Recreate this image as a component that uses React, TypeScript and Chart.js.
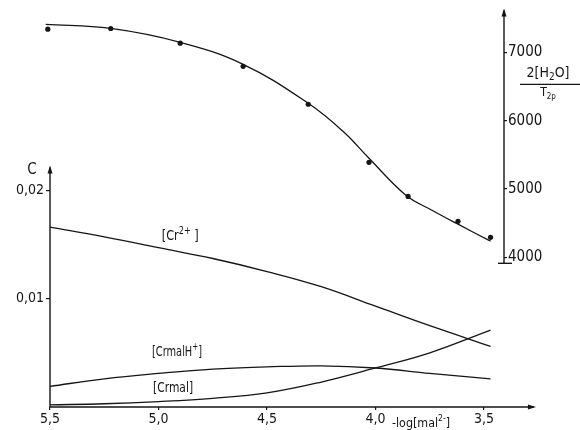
import React, { useEffect, useRef } from "react";
import { Chart, registerables } from "chart.js";

Chart.register(...registerables);

// x axis: -log[mal2-] (reversed)
const xTickValues = [5.5, 5.0, 4.5, 4.0, 3.5];
const cTickValues = [0.01, 0.02];
const nmrTickValues = [4000, 5000, 6000, 7000];

// upper panel: 2[H2O]/T2p measured points
const nmrX = [5.51, 5.22, 4.9, 4.61, 4.31, 4.03, 3.85, 3.62, 3.47];
const nmrY = [7340, 7350, 7135, 6795, 6240, 5390, 4890, 4525, 4290];

// upper panel: fitted curve
const fitX = [5.52, 5.22, 4.9, 4.61, 4.31, 4.15, 4.03, 3.86, 3.74, 3.62, 3.47];
const fitY = [7410, 7351, 7147, 6825, 6254, 5844, 5449, 4907, 4688, 4483, 4234];

// lower panel: concentrations C
const concX = [5.5, 5.25, 5.0, 4.75, 4.5, 4.25, 4.0, 3.75, 3.47];
const crFree = [0.0166, 0.0157, 0.0147, 0.0137, 0.0125, 0.0111, 0.0093, 0.0075, 0.0056];
const crMalH = [0.0019, 0.0026, 0.0031, 0.0035, 0.0037, 0.0038, 0.0036, 0.0031, 0.0026];
const crMal = [0.0002, 0.0003, 0.0005, 0.0008, 0.0013, 0.0023, 0.0036, 0.005, 0.0071];

const FONT = "'DejaVu Sans Condensed', 'DejaVu Sans', sans-serif";
const INK = "#151515";

type Part = { t: string; sup?: boolean; sub?: boolean };

function partSize(p: Part, size: number) {
  return p.sup || p.sub ? Math.round(size * 0.7) : size;
}

function measureRich(ctx: CanvasRenderingContext2D, parts: Part[], size: number, h = 1) {
  let w = 0;
  for (const p of parts) {
    ctx.font = `${partSize(p, size)}px ${FONT}`;
    w += ctx.measureText(p.t).width;
  }
  return w * h;
}

function drawRich(ctx: CanvasRenderingContext2D, parts: Part[], x: number, y: number, size: number, h = 1) {
  ctx.save();
  ctx.translate(x, y);
  ctx.scale(h, 1);
  let cx = 0;
  ctx.textBaseline = "middle";
  ctx.textAlign = "left";
  for (const p of parts) {
    ctx.font = `${partSize(p, size)}px ${FONT}`;
    const dy = p.sup ? -size * 0.38 : p.sub ? size * 0.3 : 0;
    ctx.fillText(p.t, cx, dy);
    cx += ctx.measureText(p.t).width;
  }
  ctx.restore();
}

const decorPlugin = {
  id: "decor",
  afterDraw(chart: any) {
    const { ctx } = chart;
    const x = chart.scales.x;
    const yC = chart.scales.yC;
    const yN = chart.scales.yN;
    ctx.save();
    ctx.strokeStyle = INK;
    ctx.fillStyle = INK;
    ctx.lineWidth = 1.4;

    const line = (x1: number, y1: number, x2: number, y2: number) => {
      ctx.beginPath();
      ctx.moveTo(x1, y1);
      ctx.lineTo(x2, y2);
      ctx.stroke();
    };
    const arrowUp = (px: number, py: number) => {
      ctx.beginPath();
      ctx.moveTo(px, py - 2);
      ctx.lineTo(px - 2.5, py + 6);
      ctx.lineTo(px + 2.5, py + 6);
      ctx.closePath();
      ctx.fill();
    };
    const arrowRight = (px: number, py: number) => {
      ctx.beginPath();
      ctx.moveTo(px + 2, py);
      ctx.lineTo(px - 6, py - 2.5);
      ctx.lineTo(px - 6, py + 2.5);
      ctx.closePath();
      ctx.fill();
    };

    // x axis with arrow
    const y0 = yC.getPixelForValue(0);
    const xl = x.getPixelForValue(5.5);
    const xEnd = x.getPixelForValue(3.27);
    ctx.lineWidth = 1.7;
    line(xl, y0, xEnd, y0);
    arrowRight(xEnd, y0);
    ctx.lineWidth = 1.4;

    // left C axis with arrow
    const yTopC = yC.getPixelForValue(0.0221);
    line(xl, y0, xl, yTopC);
    arrowUp(xl, yTopC);

    // right axis with arrow and foot bar
    const xr = yN.left;
    const yb = yN.getPixelForValue(3910);
    const yt = yN.getPixelForValue(7615);
    line(xr, yb, xr, yt);
    arrowUp(xr, yt);
    line(xr - 6, yb, xr + 8, yb);

    // axis names
    ctx.font = `15px ${FONT}`;
    ctx.textAlign = "center";
    ctx.textBaseline = "middle";
    ctx.fillText("C", xl - 18, yTopC + 3);

    // fraction label
    const fx = xr + 44;
    const numParts: Part[] = [{ t: "2[H" }, { t: "2", sub: true }, { t: "O]" }];
    const nw = measureRich(ctx, numParts, 14);
    drawRich(ctx, numParts, fx - nw / 2, yN.getPixelForValue(6693), 14);
    ctx.lineWidth = 1.2;
    const fl = yN.getPixelForValue(6532);
    line(xr + 16, fl, xr + 80, fl);
    const denParts: Part[] = [{ t: "T" }, { t: "2p", sub: true }];
    const dw = measureRich(ctx, denParts, 12);
    drawRich(ctx, denParts, fx - dw / 2, yN.getPixelForValue(6400), 12);

    // x axis name
    drawRich(
      ctx,
      [{ t: "-log[mal" }, { t: "2-", sup: true }, { t: "]" }],
      x.getPixelForValue(3.924),
      y0 + 17,
      13,
      0.95
    );

    // curve labels
    drawRich(ctx, [{ t: "[Cr" }, { t: "2+", sup: true }, { t: " ]" }], x.getPixelForValue(4.985), yC.getPixelForValue(0.01575), 14, 0.9);
    drawRich(ctx, [{ t: "[CrmalH" }, { t: "+", sup: true }, { t: "]" }], x.getPixelForValue(5.03), yC.getPixelForValue(0.005), 14, 0.78);
    drawRich(ctx, [{ t: "[Crmal]" }], x.getPixelForValue(5.025), yC.getPixelForValue(0.0017), 14, 0.85);

    ctx.restore();
  },
};

function pts(xs: number[], ys: number[]) {
  return xs.map((v, i) => ({ x: v, y: ys[i] }));
}

export default function App() {
  const ref = useRef<HTMLCanvasElement | null>(null);

  useEffect(() => {
    if (!ref.current) return;
    const lineStyle = {
      borderColor: INK,
      borderWidth: 1.3,
      pointRadius: 0,
      fill: false,
      tension: 0.4,
      clip: false as any,
    };
    const chart = new Chart(ref.current, {
      type: "line",
      data: {
        datasets: [
          {
            label: "2[H2O]/T2p",
            data: pts(nmrX, nmrY),
            yAxisID: "yN",
            showLine: false,
            pointRadius: 2.6,
            pointBackgroundColor: INK,
            pointBorderColor: INK,
            pointBorderWidth: 0,
            clip: false as any,
          },
          { label: "fit", data: pts(fitX, fitY), yAxisID: "yN", ...lineStyle },
          { label: "[Cr2+]", data: pts(concX, crFree), yAxisID: "yC", ...lineStyle },
          { label: "[CrmalH+]", data: pts(concX, crMalH), yAxisID: "yC", ...lineStyle },
          { label: "[Crmal]", data: pts(concX, crMal), yAxisID: "yC", ...lineStyle },
        ],
      },
      options: {
        responsive: false,
        animation: false,
        devicePixelRatio: 1,
        layout: { padding: { top: 10, left: 0, right: 0, bottom: 0 } },
        plugins: { legend: { display: false }, tooltip: { enabled: false } },
        scales: {
          x: {
            type: "linear",
            reverse: true,
            min: 3.408,
            max: 5.5,
            afterFit: (s: any) => {
              s.height = 23;
            },
            afterBuildTicks: (s: any) => {
              s.ticks = xTickValues.map((v) => ({ value: v }));
            },
            border: { display: false },
            grid: { drawOnChartArea: false, tickLength: 3, color: INK, lineWidth: 1.2 },
            ticks: {
              color: INK,
              padding: 1,
              maxRotation: 0,
              autoSkip: false,
              font: { family: FONT, size: 14 },
              callback: (v: any) => Number(v).toFixed(1).replace(".", ","),
            },
          },
          yC: {
            type: "linear",
            position: "left",
            min: 0,
            max: 0.03659,
            afterFit: (s: any) => {
              s.width = 50;
            },
            afterBuildTicks: (s: any) => {
              s.ticks = cTickValues.map((v) => ({ value: v }));
            },
            border: { display: false },
            grid: { drawOnChartArea: false, tickLength: 4, color: INK, lineWidth: 1.2 },
            ticks: {
              color: INK,
              padding: 2,
              font: { family: FONT, size: 14 },
              callback: (v: any) => Number(v).toFixed(2).replace(".", ","),
            },
          },
          yN: {
            type: "linear",
            position: "right",
            min: 1805,
            max: 7615,
            afterFit: (s: any) => {
              s.width = 76;
            },
            afterBuildTicks: (s: any) => {
              s.ticks = nmrTickValues.map((v) => ({ value: v }));
            },
            border: { display: false },
            grid: { drawOnChartArea: false, tickLength: 3, color: INK, lineWidth: 1.2 },
            ticks: {
              color: INK,
              padding: 1,
              font: { family: FONT, size: 15 },
              callback: (v: any) => String(v),
            },
          },
        },
      },
      plugins: [decorPlugin],
    });
    return () => chart.destroy();
  }, []);

  return (
    <div style={{ position: "fixed", left: 0, top: 0, width: 580, height: 430, background: "#fff" }}>
      <canvas ref={ref} width={580} height={430} style={{ display: "block" }} />
    </div>
  );
}
